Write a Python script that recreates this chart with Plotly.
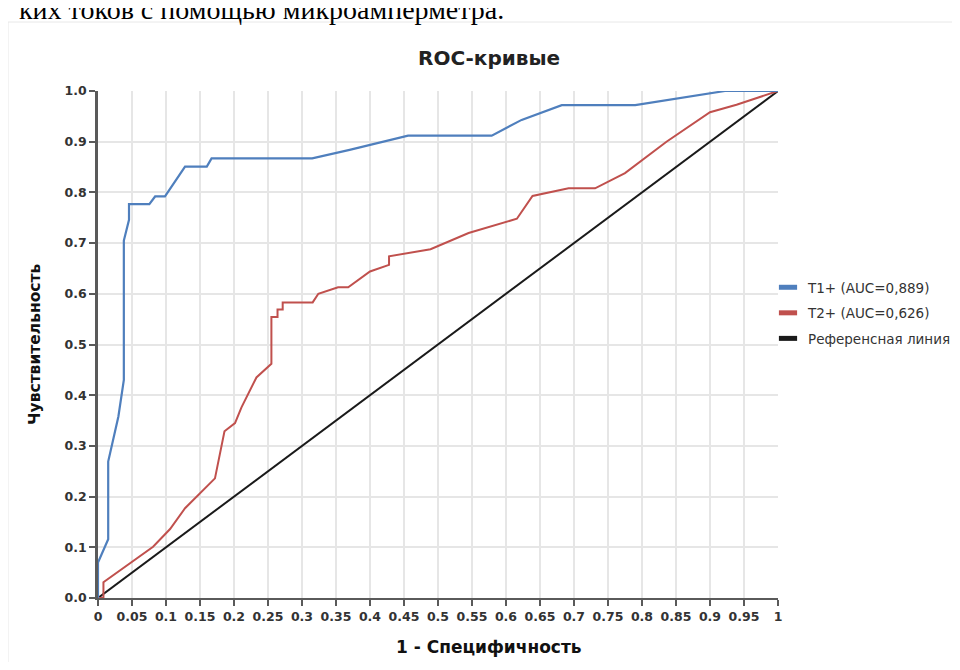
import plotly.graph_objects as go

# ---- data ----
t1_name = "T1+ (AUC=0,889)"
t1_fpr = [0, 0, 0.015, 0.015, 0.03, 0.038, 0.038, 0.0456, 0.0456, 0.0755, 0.084, 0.0985,
          0.128, 0.16, 0.167, 0.315, 0.37, 0.456, 0.579, 0.623, 0.682, 0.79, 0.922, 1.0]
t1_tpr = [0, 0.07, 0.116, 0.269, 0.358, 0.43, 0.705, 0.746, 0.777, 0.777, 0.792, 0.792,
          0.851, 0.851, 0.867, 0.867, 0.884, 0.912, 0.912, 0.943, 0.972, 0.972, 1.0, 1.0]

t2_name = "T2+ (AUC=0,626)"
t2_fpr = [0, 0.008, 0.008, 0.081, 0.106, 0.128, 0.172, 0.186, 0.2015, 0.211, 0.233, 0.255,
          0.255, 0.264, 0.264, 0.2716, 0.2716, 0.3157, 0.324, 0.353, 0.368, 0.4, 0.428,
          0.428, 0.489, 0.545, 0.616, 0.639, 0.692, 0.731, 0.775, 0.836, 0.9, 0.939, 1.0]
t2_tpr = [0, 0, 0.031, 0.101, 0.136, 0.177, 0.236, 0.329, 0.345, 0.376, 0.435, 0.462,
          0.554, 0.554, 0.569, 0.569, 0.583, 0.583, 0.600, 0.613, 0.613, 0.644, 0.657,
          0.674, 0.688, 0.72, 0.748, 0.793, 0.808, 0.808, 0.838, 0.9, 0.958, 0.973, 1.0]

ref_name = "Референсная линия"
ref_x = [0, 1]
ref_y = [0, 1]

x_tickvals = [0, 0.05, 0.1, 0.15, 0.2, 0.25, 0.3, 0.35, 0.4, 0.45, 0.5, 0.55, 0.6, 0.65,
              0.7, 0.75, 0.8, 0.85, 0.9, 0.95, 1]
x_ticktext = ["0", "0.05", "0.1", "0.15", "0.2", "0.25", "0.3", "0.35", "0.4", "0.45", "0.5",
              "0.55", "0.6", "0.65", "0.7", "0.75", "0.8", "0.85", "0.9", "0.95", "1"]
y_tickvals = [0, 0.1, 0.2, 0.3, 0.4, 0.5, 0.6, 0.7, 0.8, 0.9, 1.0]
y_ticktext = ["0.0", "0.1", "0.2", "0.3", "0.4", "0.5", "0.6", "0.7", "0.8", "0.9", "1.0"]

title_text = "ROC-кривые"
x_title = "1 - Специфичность"
y_title = "Чувствительность"
page_text = "ких токов с помощью микроамперметра."

c_blue = "#4f7fbd"
c_red = "#c0504d"
c_black = "#1a1a1a"

# page body has an 8px margin; figure sized to fit inside the window without scrolling
OFF = 8
W, H = 944, 654
L, R, T, B = 90, 174, 83, 64
PW, PH = W - L - R, H - T - B


def px_x(p):  # window pixel -> paper x
    return (p - OFF - L) / PW


def px_y(p):  # window pixel -> paper y
    return (H - B - (p - OFF)) / PH


def cx(p):  # window pixel -> container x
    return (p - OFF) / W


def cy(p):  # window pixel -> container y
    return 1 - (p - OFF) / H


fig = go.Figure()
fig.add_trace(go.Scatter(x=ref_x, y=ref_y, mode="lines", line=dict(color=c_black, width=2),
                         showlegend=False, hoverinfo="skip"))
fig.add_trace(go.Scatter(x=t2_fpr, y=t2_tpr, mode="lines", line=dict(color=c_red, width=2),
                         showlegend=False))
fig.add_trace(go.Scatter(x=t1_fpr, y=t1_tpr, mode="lines", line=dict(color=c_blue, width=2.2),
                         showlegend=False))

for i, (nm, col) in enumerate([(t1_name, c_blue), (t2_name, c_red), (ref_name, c_black)]):
    fig.add_trace(go.Scatter(x=[None], y=[None], mode="markers", name=nm,
                             legendgroup="g%d" % i,
                             marker=dict(symbol="line-ew", size=13, color=col,
                                         line=dict(color=col, width=5))))

tickfont = dict(family="DejaVu Sans", size=12.5, color="#333333", weight="bold")

fig.update_layout(
    width=W, height=H, autosize=False,
    margin=dict(l=L, r=R, t=T, b=B, autoexpand=False),
    paper_bgcolor="white", plot_bgcolor="white",
    showlegend=True,
    legend=dict(xref="container", yref="container", x=cx(768), y=cy(272),
                xanchor="left", yanchor="top",
                font=dict(family="DejaVu Sans", size=13.5, color="#333333"),
                tracegroupgap=5, bgcolor="rgba(0,0,0,0)"),
    xaxis=dict(range=[0, 1], tickvals=x_tickvals, ticktext=x_ticktext,
               showgrid=True, gridcolor="#e6e6e6", gridwidth=1.5, zeroline=False,
               showline=True, linecolor="#5a5a5a", linewidth=1.5,
               ticks="outside", ticklen=6, tickcolor="#5a5a5a", tickwidth=1.5,
               tickfont=tickfont, automargin=False),
    yaxis=dict(range=[0, 1], tickvals=y_tickvals, ticktext=y_ticktext,
               showgrid=True, gridcolor="#e6e6e6", gridwidth=1.5, zeroline=False,
               showline=True, linecolor="#5a5a5a", linewidth=2.5,
               ticks="outside", ticklen=6, tickcolor="#5a5a5a", tickwidth=1.5,
               tickfont=tickfont, automargin=False),
)

fig.add_annotation(text=title_text, xref="paper", yref="paper", x=px_x(489), y=px_y(58),
                   xanchor="center", yanchor="middle", showarrow=False,
                   font=dict(family="DejaVu Sans", size=20, color="#222222", weight="bold"))
fig.add_annotation(text=x_title, xref="paper", yref="paper", x=px_x(489), y=px_y(647),
                   xanchor="center", yanchor="middle", showarrow=False,
                   font=dict(family="DejaVu Sans", size=17, color="#111111", weight="bold"))
fig.add_annotation(text=y_title, xref="paper", yref="paper", x=px_x(35), y=px_y(345),
                   xanchor="center", yanchor="middle", showarrow=False, textangle=-90,
                   font=dict(family="DejaVu Sans", size=15.5, color="#111111", weight="bold"))
fig.add_annotation(text=page_text, xref="paper", yref="paper", x=px_x(506), y=px_y(9),
                   xanchor="right", yanchor="middle", showarrow=False,
                   font=dict(family="Liberation Serif", size=28, color="#000000"))

fig.add_shape(type="rect", xref="paper", yref="paper",
              x0=px_x(8), x1=px_x(975), y0=px_y(690), y1=px_y(22),
              line=dict(color="#e8e8e8", width=1), fillcolor="rgba(0,0,0,0)", layer="below")

fig.write_html("out.html", config={"responsive": False})
